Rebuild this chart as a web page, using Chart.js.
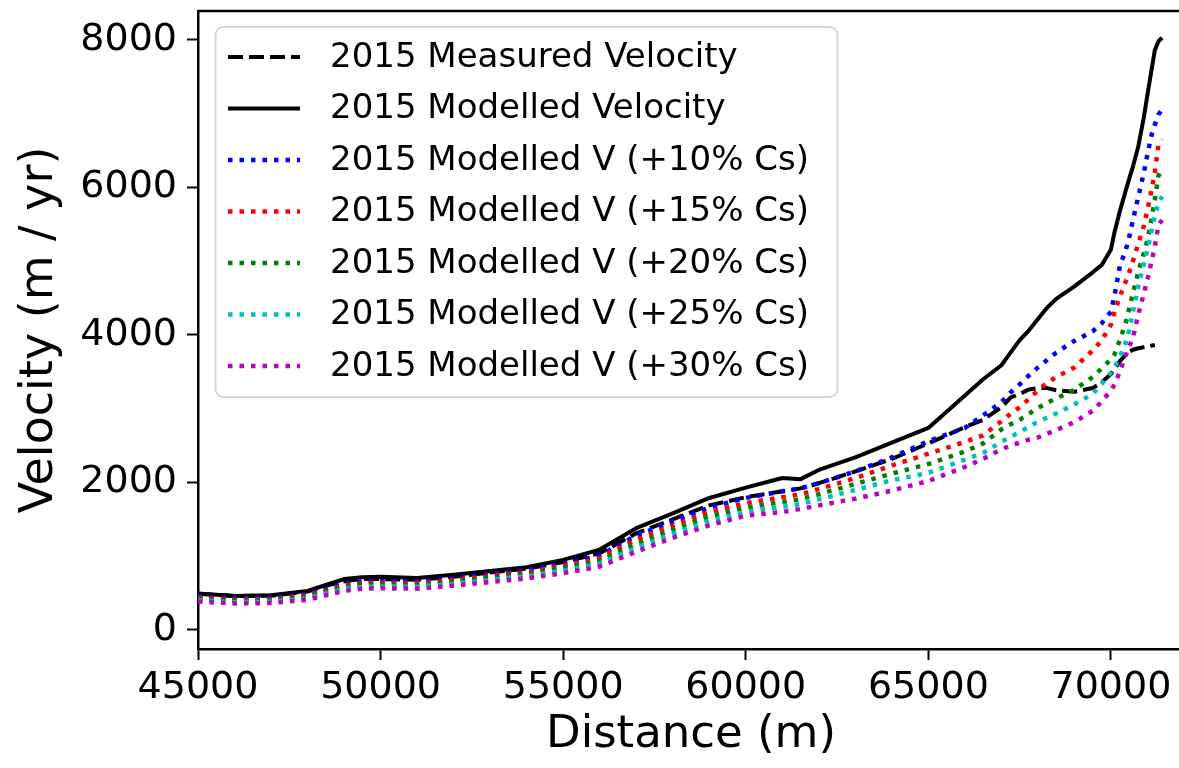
<!DOCTYPE html>
<html lang="en">
<head>
  <meta charset="UTF-8" />
  <title>Velocity along flowline</title>
  <script src="https://cdn.jsdelivr.net/npm/chart.js"></script>
  <style>
    body {
      margin: 0;
      background: #fff;
      overflow: hidden;
    }
    .wrap {
      position: relative;
      width: 1179px;
      height: 768px;
      overflow: hidden;
    }
    canvas {
      position: absolute;
      left: 0;
      top: -40px;
    }
  </style>
</head>
<body>
<div class="wrap">
  <canvas id="velChart" width="1230" height="808"></canvas>
</div>

<script>
// distance along flowline (m)
const distance = [45000, 46000, 47000, 48000, 48500, 49000, 49500, 50000, 51000, 52000,
  53000, 54000, 55000, 56000, 57000, 58000, 59000, 60000, 61000, 61500,
  62000, 63000, 64000, 65000, 66000, 66500, 67000, 67250, 67500, 67750,
  68000, 68250, 68500, 69000, 69500, 69750, 70000, 70100, 70250, 70400,
  70500, 70600, 70750, 70900, 71000, 71100, 71200, 71300, 71400];

// velocities (m / yr)
const measured = [490, 460, 465, 520, 600, 660, 690, 690, 680, 720,
  780, 830, 920, 1040, 1310, 1500, 1690, 1800, 1880, 1920,
  1990, 2150, 2320, 2530, 2750, 2850, 3020, 3150, 3200, 3260,
  3280, 3280, 3250, 3230, 3280, 3360, 3470, 3540, 3650, 3730,
  3770, 3800, 3820, 3835, 3845, 3855, 3865, null, null];
const modelled = [495, 462, 470, 530, 610, 690, 715, 720, 705, 750,
  800, 850, 950, 1090, 1380, 1580, 1790, 1930, 2060, 2045,
  2170, 2340, 2540, 2740, 3180, 3400, 3590, 3760, 3930, 4060,
  4215, 4370, 4490, 4660, 4850, 4950, 5160, 5400, 5690, 5950,
  6120, 6280, 6560, 6950, 7260, 7560, 7860, 7980, 8030];
const cs10 = [460, 430, 435, 490, 560, 630, 660, 665, 660, 700,
  760, 810, 900, 1010, 1280, 1470, 1660, 1790, 1880, 1920,
  1990, 2150, 2340, 2560, 2740, 2910, 3090, 3220, 3330, 3450,
  3560, 3660, 3760, 3920, 4050, 4160, 4320, 4540, 4950, 5140,
  5330, 5550, 5880, 6200, 6450, 6690, 6850, 6990, 7060];
const cs15 = [440, 412, 417, 470, 537, 605, 635, 640, 635, 675,
  732, 782, 868, 972, 1225, 1415, 1600, 1720, 1800, 1840,
  1910, 2060, 2230, 2390, 2550, 2640, 2830, 2930, 3020, 3130,
  3250, 3350, 3430, 3560, 3790, 3930, 4140, 4320, 4530, 4720,
  4850, 5000, 5240, 5480, 5700, 5940, 6200, 6580, 6650];
const cs20 = [422, 395, 400, 450, 515, 580, 610, 615, 610, 650,
  705, 755, 835, 935, 1170, 1360, 1540, 1660, 1735, 1775,
  1840, 1980, 2120, 2250, 2420, 2530, 2720, 2790, 2850, 2930,
  3010, 3080, 3140, 3260, 3430, 3550, 3670, 3740, 3940, 4160,
  4360, 4560, 4860, 5110, 5290, 5550, 5830, 6160, 6250];
const cs25 = [403, 377, 382, 430, 492, 555, 585, 590, 585, 625,
  678, 728, 802, 898, 1115, 1305, 1480, 1600, 1668, 1708,
  1770, 1900, 2030, 2130, 2310, 2400, 2550, 2620, 2680, 2760,
  2820, 2880, 2935, 3060, 3200, 3340, 3490, 3560, 3710, 3890,
  4070, 4310, 4660, 4970, 5150, 5390, 5610, 5790, 5880];
const cs30 = [385, 360, 365, 410, 470, 530, 560, 565, 560, 600,
  650, 700, 770, 860, 1060, 1250, 1420, 1550, 1600, 1640,
  1690, 1780, 1890, 2020, 2210, 2320, 2450, 2500, 2540, 2580,
  2610, 2660, 2710, 2820, 2970, 3100, 3250, 3330, 3510, 3720,
  3840, 3960, 4280, 4560, 4760, 4975, 5200, 5490, 5560];

const seriesLabels = [
  '2015 Measured Velocity',
  '2015 Modelled Velocity',
  '2015 Modelled V (+10% Cs)',
  '2015 Modelled V (+15% Cs)',
  '2015 Modelled V (+20% Cs)',
  '2015 Modelled V (+25% Cs)',
  '2015 Modelled V (+30% Cs)'
];
const xTicks = [45000, 50000, 55000, 60000, 65000, 70000];
const yTicks = [0, 2000, 4000, 6000, 8000];

const FONT = 'DejaVu Sans';
const TOP = 40; // canvas is shifted up by this much
const dotted = [4.5, 7];

function pts(arr) {
  return distance.map((d, i) => ({ x: d, y: arr[i] }));
}

const styles = [
  { color: '#000000', dash: [15, 6], width: 4 },
  { color: '#000000', dash: [], width: 4 },
  { color: '#0000ff', dash: dotted, width: 4.5 },
  { color: '#ff0000', dash: dotted, width: 4.5 },
  { color: '#008000', dash: dotted, width: 4.5 },
  { color: '#00bfbf', dash: dotted, width: 4.5 },
  { color: '#bf00bf', dash: dotted, width: 4.5 }
];
const values = [measured, modelled, cs10, cs15, cs20, cs25, cs30];

const datasets = values.map((arr, i) => ({
  label: seriesLabels[i],
  data: pts(arr),
  borderColor: styles[i].color,
  backgroundColor: styles[i].color,
  borderWidth: styles[i].width,
  borderDash: styles[i].dash,
  borderCapStyle: 'butt',
  borderJoinStyle: 'round',
  pointRadius: 0,
  fill: false,
  tension: 0,
  order: values.length - i
}));

// top spine + matplotlib-style legend box
const framePlugin = {
  id: 'frame',
  afterDatasetsDraw(chart) {
    const ctx = chart.ctx;
    const a = chart.chartArea;
    ctx.save();
    ctx.strokeStyle = '#000';
    ctx.lineWidth = 2.5;
    ctx.beginPath();
    ctx.moveTo(a.left, a.top);
    ctx.lineTo(a.right, a.top);
    ctx.stroke();

    // legend
    const bx = 215.5, by = 27 + TOP, bw = 622, bh = 370;
    ctx.beginPath();
    ctx.roundRect(bx, by, bw, bh, 8);
    ctx.fillStyle = 'rgba(255,255,255,0.85)';
    ctx.fill();
    ctx.strokeStyle = '#d6d6d6';
    ctx.lineWidth = 2;
    ctx.stroke();

    ctx.font = '34px "' + FONT + '"';
    ctx.textBaseline = 'middle';
    ctx.textAlign = 'left';
    chart.data.datasets.forEach((ds, i) => {
      const y = 57 + TOP + i * 51.5;
      ctx.beginPath();
      ctx.setLineDash(ds.borderDash);
      ctx.lineCap = 'butt';
      ctx.strokeStyle = ds.borderColor;
      ctx.lineWidth = ds.borderWidth;
      ctx.moveTo(228, y);
      ctx.lineTo(300, y);
      ctx.stroke();
      ctx.setLineDash([]);
      ctx.fillStyle = '#000';
      ctx.fillText(ds.label, 330, y + 1);
    });
    ctx.restore();
  }
};

new Chart(document.getElementById('velChart'), {
  type: 'line',
  data: { datasets: datasets },
  options: {
    responsive: false,
    animation: false,
    devicePixelRatio: 1,
    layout: { padding: { top: 11 + TOP, right: 46, left: 0, bottom: 0 } },
    plugins: {
      legend: { display: false },
      tooltip: { enabled: false }
    },
    scales: {
      x: {
        type: 'linear',
        min: 45000,
        max: 72000,
        afterBuildTicks: s => { s.ticks = xTicks.map(v => ({ value: v })); },
        afterFit: s => { s.height = 119; },
        ticks: {
          color: '#000',
          font: { family: FONT, size: 38 },
          padding: 5,
          maxRotation: 0,
          callback: v => String(v)
        },
        grid: {
          drawOnChartArea: false,
          tickLength: 11,
          tickWidth: 2,
          color: '#000'
        },
        border: { display: true, color: '#000', width: 2.5 },
        title: {
          display: true,
          text: 'Distance (m)',
          color: '#000',
          font: { family: FONT, size: 45 },
          padding: { top: 0, bottom: 6 }
        }
      },
      y: {
        type: 'linear',
        min: -258,
        max: 8393,
        afterBuildTicks: s => { s.ticks = yTicks.map(v => ({ value: v })); },
        afterFit: s => { s.width = 198; },
        ticks: {
          color: '#000',
          font: { family: FONT, size: 38 },
          padding: 10,
          callback: v => String(v)
        },
        grid: {
          drawOnChartArea: false,
          tickLength: 11,
          tickWidth: 2,
          color: '#000'
        },
        border: { display: true, color: '#000', width: 2.5 },
        title: {
          display: true,
          text: 'Velocity (m / yr)',
          color: '#000',
          font: { family: FONT, size: 46 },
          padding: { top: 12, bottom: 0 }
        }
      }
    }
  },
  plugins: [framePlugin]
});
</script>
</body>
</html>
